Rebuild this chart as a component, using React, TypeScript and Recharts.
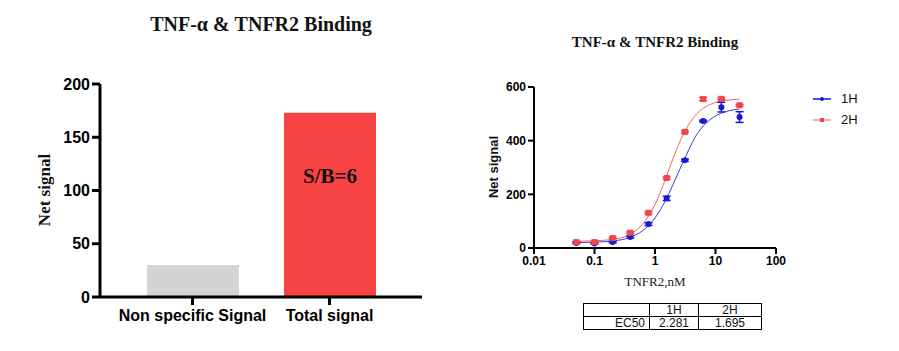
import React from 'react'
import {
  BarChart,
  Bar,
  Cell,
  LabelList,
  XAxis,
  YAxis,
  ComposedChart,
  Line,
  Scatter,
  ErrorBar,
} from 'recharts'

// left panel
const categories = ['Non specific Signal', 'Total signal']
const netSignal = [30, 173]
const barNotes = ['', 'S/B=6']
const barTicks = [0, 50, 100, 150, 200]

// right panel
const conc = [0.05, 0.1, 0.2, 0.39, 0.78, 1.56, 3.125, 6.25, 12.5, 25]
const pts1H = [19, 17, 22, 41, 89, 185, 327, 473, 525, 488]
const err1H = [3, 3, 3, 4, 5, 8, 4, 3, 18, 20]
const pts2H = [22, 22, 37, 57, 131, 261, 433, 555, 556, 532]
const err2H = [3, 3, 3, 3, 4, 4, 4, 6, 3, 3]

const curveX = [0.05, 0.1, 0.2, 0.4, 0.7, 1, 1.5, 2, 3, 5, 8, 12, 18, 25]
const curve1H = [20, 22, 26, 41, 73, 112, 178, 238, 327, 426, 477, 501, 513, 518]
const curve2H = [25, 27, 32, 53, 103, 162, 259, 335, 428, 502, 534, 547, 552, 555]

const logTicks = [0.01, 0.1, 1, 10, 100]
const signalTicks = [0, 200, 400, 600]

const ec50Cols = ['1H', '2H']
const ec50Vals = ['2.281', '1.695']

const BLUE = '#1818d4'
const RED = '#ef4646'

const barData = categories.map((name, i) => ({ name, value: netSignal[i], note: barNotes[i] }))
const mk = (xs: number[], ys: number[], es?: number[]) =>
  xs.map((x, i) => ({ x, y: ys[i], err: es ? es[i] : 0 }))

const series = [
  { name: '1H', color: BLUE, points: mk(conc, pts1H, err1H), curve: mk(curveX, curve1H), shape: 'circle' },
  { name: '2H', color: RED, points: mk(conc, pts2H, err2H), curve: mk(curveX, curve2H), shape: 'square' },
]

const serifBold = { fontFamily: '"Liberation Serif", "Times New Roman", serif', fontWeight: 700 }
const sansBold = { fontFamily: '"Liberation Sans", Arial, sans-serif', fontWeight: 700 }

const NoteLabel = (props: any) => {
  const { x, y, width, value } = props
  if (!value) return null
  return (
    <text x={x + width / 2} y={y + 70} textAnchor="middle" fill="#111" fontSize={21} style={serifBold}>
      {value}
    </text>
  )
}

const SquareDot = (props: any) => {
  const { cx, cy, fill } = props
  return <rect x={cx - 3} y={cy - 3} width={6} height={6} fill={fill} />
}
const CircleDot = (props: any) => {
  const { cx, cy, fill } = props
  return <circle cx={cx} cy={cy} r={3} fill={fill} />
}

const cell = { border: '1px solid #000', padding: 0, height: 12, lineHeight: '12px' }

export default function App() {
  return (
    <div style={{ position: 'absolute', left: 0, top: 0, width: 899, height: 351, background: '#fff' }}>
      {/* left title */}
      <div style={{ position: 'absolute', left: 61, top: 13, width: 400, textAlign: 'center', fontSize: 20, color: '#111', ...serifBold }}>
        TNF-α &amp; TNFR2 Binding
      </div>
      <div
        style={{
          position: 'absolute', left: 45, top: 190, fontSize: 17, color: '#111', ...serifBold,
          transform: 'translate(-50%, -50%) rotate(-90deg)', whiteSpace: 'nowrap',
        }}
      >
        Net signal
      </div>
      <div style={{ position: 'absolute', left: 0, top: 0 }}>
        <BarChart width={450} height={351} data={barData} margin={{ top: 84, right: 28, bottom: 24, left: 40 }} barSize={92}>
          <XAxis
            dataKey="name"
            height={30}
            padding={{ left: 24, right: 24 }}
            axisLine={{ stroke: '#000', strokeWidth: 3 }}
            tickLine={{ stroke: '#000', strokeWidth: 3 }}
            tickSize={8}
            tickMargin={5}
            tick={{ fill: '#000', fontSize: 16, ...sansBold }}
            interval={0}
          />
          <YAxis
            width={60}
            domain={[0, 200]}
            ticks={barTicks}
            axisLine={{ stroke: '#000', strokeWidth: 3 }}
            tickLine={{ stroke: '#000', strokeWidth: 3 }}
            tickSize={8}
            tick={{ fill: '#000', fontSize: 16, ...sansBold }}
          />
          <Bar dataKey="value" isAnimationActive={false}>
            {barData.map((d, i) => (
              <Cell key={d.name} fill={i === 0 ? '#d4d4d4' : '#f74343'} />
            ))}
            <LabelList dataKey="note" content={NoteLabel} />
          </Bar>
        </BarChart>
      </div>

      {/* right title */}
      <div style={{ position: 'absolute', left: 505, top: 34, width: 300, textAlign: 'center', fontSize: 15, color: '#111', ...serifBold }}>
        TNF-α &amp; TNFR2 Binding
      </div>
      <div
        style={{
          position: 'absolute', left: 493, top: 167, fontSize: 13, color: '#111', ...sansBold,
          transform: 'translate(-50%, -50%) rotate(-90deg)', whiteSpace: 'nowrap',
        }}
      >
        Net signal
      </div>
      <div style={{ position: 'absolute', left: 505, top: 274, width: 300, textAlign: 'center', fontSize: 13, color: '#222', fontFamily: '"Liberation Serif", serif' }}>
        TNFR2,nM
      </div>
      <div style={{ position: 'absolute', left: 450, top: 0 }}>
        <ComposedChart width={449} height={351} margin={{ top: 87, right: 123, bottom: 73, left: 24 }}>
          <XAxis
            dataKey="x"
            type="number"
            scale="log"
            domain={[0.01, 100]}
            ticks={logTicks}
            height={30}
            allowDataOverflow
            axisLine={{ stroke: '#000', strokeWidth: 2 }}
            tickLine={{ stroke: '#000', strokeWidth: 2 }}
            tickSize={6}
            tick={{ fill: '#000', fontSize: 12, ...sansBold }}
            tickFormatter={(v: number) => String(v)}
          />
          <YAxis
            width={60}
            type="number"
            domain={[0, 600]}
            ticks={signalTicks}
            axisLine={{ stroke: '#000', strokeWidth: 2 }}
            tickLine={{ stroke: '#000', strokeWidth: 2 }}
            tickSize={6}
            tick={{ fill: '#000', fontSize: 12, ...sansBold }}
          />
          {series.map((s) => (
            <Line
              key={s.name + '-fit'}
              data={s.curve}
              dataKey="y"
              type="monotone"
              stroke={s.color}
              strokeOpacity={0.85}
              strokeWidth={1}
              dot={false}
              isAnimationActive={false}
            />
          ))}
          {series.map((s) => (
            <Scatter
              key={s.name + '-pts'}
              data={s.points}
              dataKey="y"
              fill={s.color}
              shape={s.shape === 'square' ? SquareDot : CircleDot}
              isAnimationActive={false}
            >
              <ErrorBar dataKey="err" direction="y" width={4} stroke={s.color} strokeWidth={1.5} />
            </Scatter>
          ))}
        </ComposedChart>
      </div>

      {/* legend */}
      <div style={{ position: 'absolute', left: 812, top: 88 }}>
        {series.map((s) => (
          <div key={s.name} style={{ display: 'flex', alignItems: 'center', height: 21 }}>
            <svg width={22} height={10}>
              <line x1={1} y1={5} x2={19} y2={5} stroke={s.color} strokeOpacity={s.name === '2H' ? 0.6 : 1} strokeWidth={1.5} />
              {s.shape === 'square' ? (
                <rect x={8} y={3} width={4} height={4} fill={s.color} />
              ) : (
                <circle cx={10} cy={5} r={2} fill={s.color} />
              )}
            </svg>
            <span style={{ marginLeft: 7, fontSize: 13, color: '#111', fontFamily: '"Liberation Sans", Arial, sans-serif' }}>{s.name}</span>
          </div>
        ))}
      </div>

      {/* EC50 table */}
      <table
        style={{
          position: 'absolute', left: 583, top: 303, borderCollapse: 'collapse', tableLayout: 'fixed',
          fontFamily: '"Liberation Sans", Arial, sans-serif', fontSize: 12, color: '#111',
        }}
      >
        <tbody>
          <tr>
            <td style={{ ...cell, width: 65 }}></td>
            {ec50Cols.map((c, i) => (
              <td key={c} style={{ ...cell, width: i === 0 ? 48 : 62, textAlign: 'center' }}>{c}</td>
            ))}
          </tr>
          <tr>
            <td style={{ ...cell, paddingRight: 4, textAlign: 'right' }}>EC50</td>
            {ec50Vals.map((v, i) => (
              <td key={i} style={{ ...cell, textAlign: 'center' }}>{v}</td>
            ))}
          </tr>
        </tbody>
      </table>
    </div>
  )
}
